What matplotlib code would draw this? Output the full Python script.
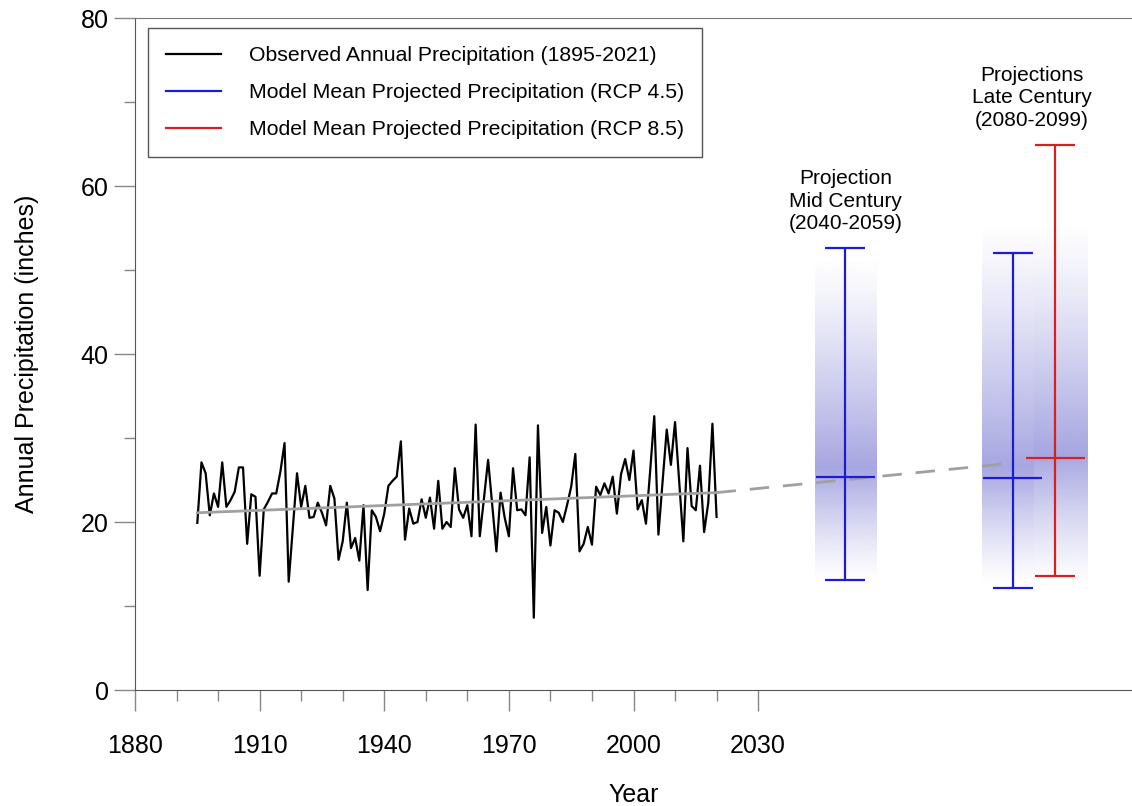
import numpy as np
import matplotlib.pyplot as plt
from matplotlib.lines import Line2D

plt.rcParams["font.family"] = ["Liberation Sans", "DejaVu Sans"]

# ---------------- data ----------------
obs_start_year = 1895
obs_precip = [
    19.9, 27.1, 25.8, 20.8, 23.4, 21.8, 27.1, 21.8, 22.6, 23.6,   # 1895-1904
    26.5, 26.5, 17.4, 23.3, 23.0, 13.6, 21.5, 22.4, 23.4, 23.4,   # 1905-1914
    26.0, 29.4, 12.9, 19.3, 25.8, 21.8, 24.3, 20.5, 20.6, 22.3,   # 1915-1924
    21.1, 19.6, 24.3, 22.8, 15.5, 17.7, 22.3, 16.9, 18.1, 15.4,   # 1925-1934
    22.0, 11.9, 21.4, 20.6, 18.9, 21.0, 24.3, 24.9, 25.4, 29.6,   # 1935-1944
    17.9, 21.6, 19.8, 20.0, 22.7, 20.5, 22.9, 19.2, 24.9, 19.2,   # 1945-1954
    20.0, 19.4, 26.4, 21.5, 20.5, 22.0, 18.3, 31.6, 18.3, 22.8,   # 1955-1964
    27.4, 22.0, 16.5, 23.5, 20.5, 18.3, 26.4, 21.4, 21.5, 20.8,   # 1965-1974
    27.7, 8.6, 31.5, 18.7, 21.8, 17.2, 21.4, 21.1, 20.0, 22.0,    # 1975-1984
    24.2, 28.1, 16.5, 17.4, 19.4, 17.3, 24.2, 23.2, 24.6, 23.4,   # 1985-1994
    25.4, 21.0, 25.7, 27.5, 25.0, 28.5, 21.5, 22.6, 19.8, 26.0,   # 1995-2004
    32.6, 18.5, 24.8, 31.0, 26.8, 31.9, 24.8, 17.7, 28.8, 21.9,   # 2005-2014
    21.4, 26.7, 18.8, 22.3, 31.7, 20.6,                           # 2015-2020
]

trend_years = [1895, 2020]
trend_vals = [21.1, 23.5]
proj_trend_years = [2020, 2091]
proj_trend_vals = [23.5, 27.0]

# projection bars: mid century RCP4.5, late century RCP4.5, late century RCP8.5
proj_x = [2051.0, 2091.3, 2101.5]
proj_low = [13.1, 12.1, 13.6]
proj_mean = [25.3, 25.2, 27.6]
proj_high = [52.6, 52.0, 64.9]
proj_colors = ["#1c1cd8", "#1c1cd8", "#d82020"]

# shaded spread behind the bars
band_x0 = [2043.7, 2083.9, 2096.4]
band_x1 = [2058.4, 2096.4, 2109.2]
band_lo = [13.0, 12.5, 12.5]
band_hi = [51.5, 55.5, 55.5]
band_mid = [26.5, 26.5, 28.0]

legend_labels = [
    "Observed Annual Precipitation (1895-2021)",
    "Model Mean Projected Precipitation (RCP 4.5)",
    "Model Mean Projected Precipitation (RCP 8.5)",
]

# ---------------- plot ----------------
fig = plt.figure(figsize=(11.32, 8.06), dpi=100)
ax = fig.add_axes([135 / 1132, 116 / 806, 997 / 1132, 672 / 806])

years = np.arange(obs_start_year, obs_start_year + len(obs_precip))
ax.plot(years, obs_precip, color="black", linewidth=1.6, zorder=4)

ax.plot(trend_years, trend_vals, color="#a0a0a0", linewidth=2.0, zorder=5)
ax.plot(proj_trend_years, proj_trend_vals, color="#a0a0a0", linewidth=2.0,
        linestyle=(0, (7, 5)), zorder=3)

# gradient bands
base_rgb = (0.40, 0.40, 0.80)
for x0, x1, lo, hi, mid in zip(band_x0, band_x1, band_lo, band_hi, band_mid):
    yy = np.linspace(lo, hi, 400)
    a = np.where(yy < mid, (yy - lo) / (mid - lo), (hi - yy) / (hi - mid))
    a = np.clip(a, 0, 1) ** 1.2 * 0.58
    rgba = np.zeros((len(yy), 1, 4))
    rgba[:, 0, :3] = base_rgb
    rgba[:, 0, 3] = a
    ax.imshow(rgba, extent=[x0, x1, lo, hi], origin="lower", aspect="auto",
              interpolation="bilinear", zorder=1)

for x, lo, m, hi, c in zip(proj_x, proj_low, proj_mean, proj_high, proj_colors):
    ax.errorbar([x], [m], yerr=[[m - lo], [hi - m]], fmt="none", ecolor=c,
                elinewidth=1.6, capsize=14.4, capthick=1.6, zorder=6)
    ax.hlines(m, x - 7.1, x + 7.1, color=c, linewidth=1.6, zorder=6)

ax.text(2051.0, 58.2, "Projection\nMid Century\n(2040-2059)", ha="center",
        va="center", fontsize=15, linespacing=1.22)
ax.text(2095.8, 70.5, "Projections\nLate Century\n(2080-2099)", ha="center",
        va="center", fontsize=15, linespacing=1.22)

handles = [Line2D([], [], color="black", linewidth=1.6),
           Line2D([], [], color=proj_colors[0], linewidth=1.6),
           Line2D([], [], color=proj_colors[2], linewidth=1.6)]
leg = ax.legend(handles, legend_labels, loc="upper left",
                bbox_to_anchor=(0.013, 0.985), fontsize=15.3, frameon=True,
                fancybox=False, edgecolor="#555555", framealpha=1,
                handlelength=2.6, handletextpad=1.3, labelspacing=0.85,
                borderpad=0.85, borderaxespad=0)
leg.get_frame().set_linewidth(1.0)

ax.set_xlim(1880, 2120)
ax.set_ylim(0, 80)
ax.set_xticks(np.arange(1880, 2031, 30))
ax.set_xticks([y for y in range(1890, 2030, 10) if y % 30 != 20], minor=True)
ax.set_yticks([0, 20, 40, 60, 80])
ax.set_yticks([10, 30, 50, 70], minor=True)

ax.tick_params(axis="both", which="major", length=15, width=1, color="#888888",
               labelsize=18)
ax.tick_params(axis="both", which="minor", length=8, width=1, color="#888888")
ax.tick_params(axis="x", which="major", pad=17)
ax.tick_params(axis="y", which="major", pad=4)

for side in ["left", "bottom"]:
    ax.spines[side].set_color("#555555")
ax.spines["top"].set_color("#777777")
ax.spines["right"].set_visible(False)

ax.set_xlabel("Year", fontsize=18, labelpad=18)
ax.set_ylabel("Annual Precipitation (inches)", fontsize=18, labelpad=30)

fig.savefig("out.png", dpi=100)
